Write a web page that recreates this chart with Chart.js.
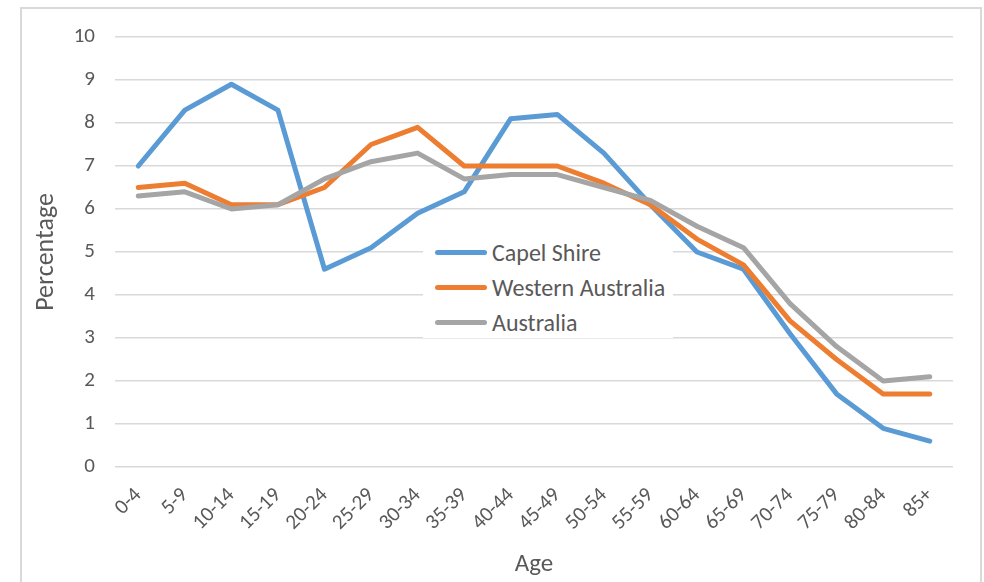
<!DOCTYPE html>
<html>
<head>
<meta charset="utf-8">
<script src="https://cdn.jsdelivr.net/npm/chart.js@4"></script>
<style>
  html,body{margin:0;padding:0;background:#fff;}
  #wrap{position:relative;width:984px;height:582px;overflow:hidden;}
  #frame{position:absolute;left:20px;top:7px;width:962px;height:600px;border:2px solid #d9d9d9;box-sizing:border-box;}
  canvas{position:absolute;left:0;top:0;}
  #legend{position:absolute;left:423px;top:234px;width:250px;height:104px;background:#fff;font-family:Calibri,Carlito,Lato,sans-serif;font-size:24px;color:#595959;}
  #legend .item{position:absolute;left:12px;height:22px;display:flex;align-items:center;}
  #legend .sw{width:52px;height:5px;border-radius:3px;margin-right:5px;}
</style>
</head>
<body>
<div id="wrap">
  <div id="frame"></div>
  <canvas id="c" width="984" height="582"></canvas>
  <div id="legend"></div>
</div>
<script>
// age groups
const ages = ['0-4','5-9','10-14','15-19','20-24','25-29','30-34','35-39','40-44','45-49','50-54','55-59','60-64','65-69','70-74','75-79','80-84','85+'];
// percentages
const capel = [7.0,8.3,8.9,8.3,4.6,5.1,5.9,6.4,8.1,8.2,7.3,6.1,5.0,4.6,3.1,1.7,0.9,0.6];
const westernAus = [6.5,6.6,6.1,6.1,6.5,7.5,7.9,7.0,7.0,7.0,6.6,6.1,5.3,4.7,3.4,2.5,1.7,1.7];
const australia = [6.3,6.4,6.0,6.1,6.7,7.1,7.3,6.7,6.8,6.8,6.5,6.2,5.6,5.1,3.8,2.8,2.0,2.1];
const seriesNames = ['Capel Shire','Western Australia','Australia'];
const colors = ['#5b9bd5','#ed7d31','#a5a5a5'];

const FONT = 'Calibri, Carlito, Lato, sans-serif';
const TXT = '#595959';

const ds = [capel, westernAus, australia].map((d,i)=>({
  label: seriesNames[i], data: d, borderColor: colors[i], backgroundColor: colors[i],
  borderWidth: 5, pointRadius: 0, tension: 0, borderCapStyle:'round', borderJoinStyle:'round'
}));
// grey underneath, blue on top
ds.reverse();

new Chart(document.getElementById('c'), {
  type: 'line',
  data: { labels: ages, datasets: ds },
  options: {
    responsive: false, animation: false,
    layout: { padding: { left: 31, right: 31, top: 37, bottom: 2 } },
    plugins: { legend: { display: false }, tooltip: { enabled: false } },
    scales: {
      x: {
        offset: true,
        grid: { display: false },
        border: { display: false },
        ticks: { color: TXT, font: { family: FONT, size: 21 }, minRotation: 45, maxRotation: 45, padding: 8 },
        title: { display: true, text: 'Age', color: TXT, font: { family: FONT, size: 25 }, padding: { top: 0, bottom: 0 } },
        afterFit(s){ s.height = 113; }
      },
      y: {
        min: 0, max: 10,
        ticks: { stepSize: 1, color: TXT, font: { family: FONT, size: 21 }, padding: 20 },
        grid: { color: '#d9d9d9', lineWidth: 1.5, drawTicks: false },
        border: { display: false },
        title: { display: true, text: 'Percentage', color: TXT, font: { family: FONT, size: 26 }, padding: { top: 0, bottom: 4 } },
        afterFit(s){ s.width = 84; }
      }
    }
  }
});

// legend box inside the plot area
const lg = document.getElementById('legend');
seriesNames.forEach((n,i)=>{
  const it = document.createElement('div');
  it.className = 'item';
  it.style.top = (7 + i*35) + 'px';
  it.innerHTML = '<div class="sw" style="background:'+colors[i]+'"></div><span>'+n+'</span>';
  lg.appendChild(it);
});
</script>
</body>
</html>
